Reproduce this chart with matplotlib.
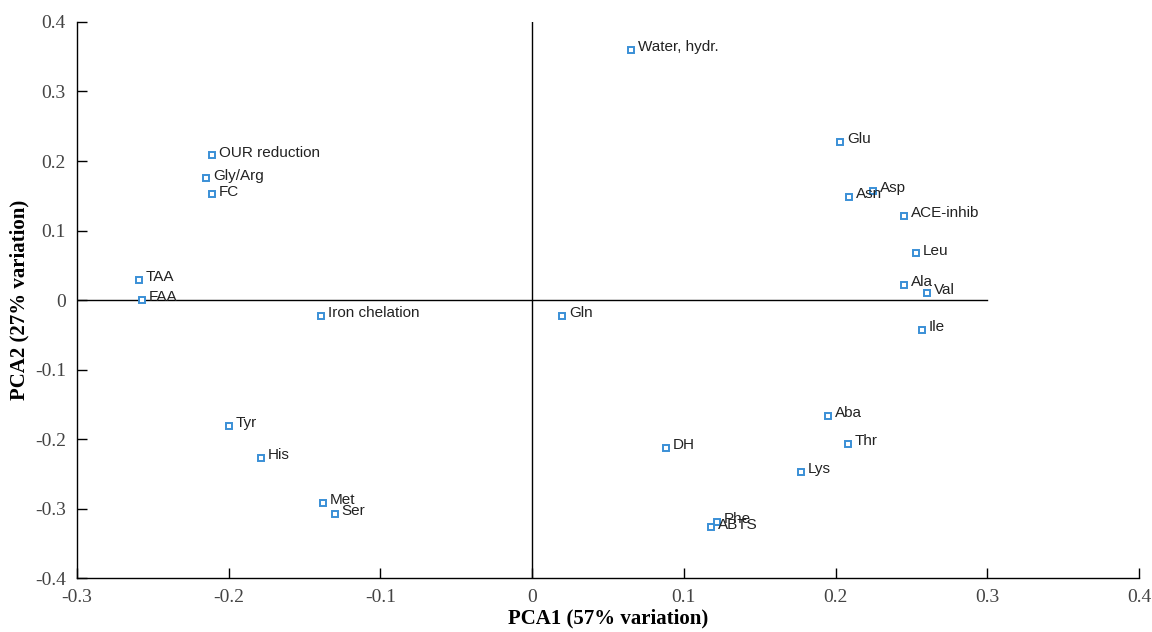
import matplotlib.pyplot as plt
import numpy as np

# PCA loadings / scores
labels = ["Water, hydr.", "Glu", "Asp", "Asn", "ACE-inhib", "Leu", "Ala", "Val",
          "Ile", "Gln", "Aba", "Thr", "Lys", "DH", "Phe", "ABTS",
          "OUR reduction", "Gly/Arg", "FC", "TAA", "FAA", "Iron chelation",
          "Tyr", "His", "Met", "Ser"]
pc1 = [0.065, 0.203, 0.225, 0.209, 0.245, 0.253, 0.245, 0.260,
       0.257, 0.020, 0.195, 0.208, 0.177, 0.088, 0.122, 0.118,
       -0.211, -0.215, -0.211, -0.259, -0.257, -0.139,
       -0.200, -0.179, -0.138, -0.130]
pc2 = [0.360, 0.227, 0.157, 0.148, 0.121, 0.067, 0.022, 0.010,
       -0.043, -0.023, -0.167, -0.207, -0.247, -0.213, -0.319, -0.327,
       0.208, 0.175, 0.152, 0.029, 0.000, -0.023,
       -0.181, -0.227, -0.292, -0.308]

marker_color = '#3a8fd6'
label_font = 'Liberation Sans'
axis_font = 'Liberation Serif'

fig = plt.figure(figsize=(11.52, 6.32), dpi=100)
ax = fig.add_axes([0.0668, 0.0854, 0.9219, 0.8798])

# reference cross at the origin
ax.plot([0, 0], [-0.4, 0.4], color='black', linewidth=1.0)
ax.plot([-0.3, 0.3], [0, 0], color='black', linewidth=1.0)

ax.plot(pc1, pc2, 's', markersize=5, markerfacecolor='white',
        markeredgecolor=marker_color, markeredgewidth=1.4, linestyle='none')

for name, xv, yv in zip(labels, pc1, pc2):
    ax.annotate(name, (xv, yv), xytext=(5, 2), textcoords='offset points',
                ha='left', va='center', fontsize=11, family=label_font,
                color='#222222')

ax.set_xlim(-0.3, 0.4)
ax.set_ylim(-0.4, 0.4)
ax.set_xticks(np.arange(-0.3, 0.41, 0.1))
ax.set_yticks(np.arange(-0.4, 0.41, 0.1))
ax.set_xticklabels(['-0.3', '-0.2', '-0.1', '0', '0.1', '0.2', '0.3', '0.4'])
ax.set_yticklabels(['-0.4', '-0.3', '-0.2', '-0.1', '0', '0.1', '0.2', '0.3', '0.4'])

ax.spines['top'].set_visible(False)
ax.spines['right'].set_visible(False)
ax.spines['left'].set_linewidth(1.0)
ax.spines['bottom'].set_linewidth(1.0)
ax.tick_params(axis='both', direction='in', length=7, width=1.0,
               labelsize=14, pad=8)
for lab in ax.get_xticklabels() + ax.get_yticklabels():
    lab.set_family(axis_font)
    lab.set_color('#444444')

ax.set_xlabel('PCA1 (57% variation)', fontsize=15, fontweight='bold',
              family=axis_font, labelpad=2)
ax.set_ylabel('PCA2 (27% variation)', fontsize=15, fontweight='bold',
              family=axis_font, labelpad=4)

plt.savefig('out.png', dpi=100)
